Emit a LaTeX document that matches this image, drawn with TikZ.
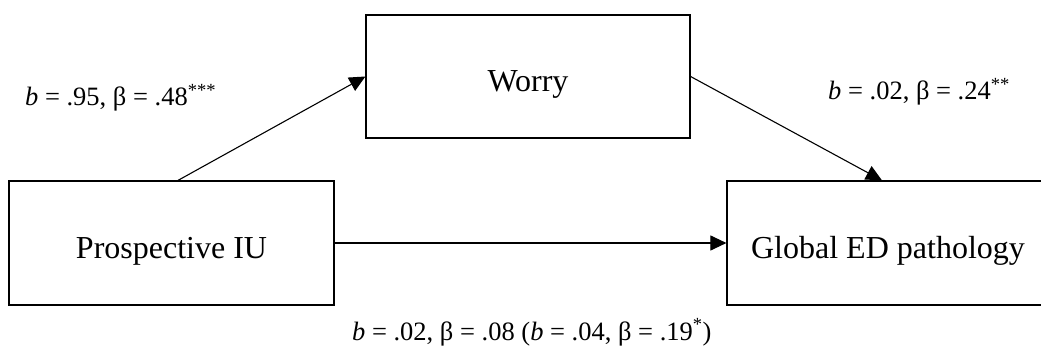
\documentclass[tikz,border=0pt]{standalone}
\usepackage{fontspec}
\setmainfont{Liberation Serif}
\usetikzlibrary{arrows.meta,calc}
\begin{document}
\begin{tikzpicture}[x=1pt,y=-1pt,
  box/.style={draw,line width=1.2pt,inner sep=0pt,text height=38pt,text depth=7pt,font=\fontsize{32}{38}\selectfont},
  lbl/.style={inner sep=0pt,anchor=base west,font=\fontsize{26.5}{32}\selectfont},
  conn/.style={line width=1.1pt,-{Triangle[length=16pt,width=15pt]}}]
\useasboundingbox (0,0) rectangle (1041,347);
\clip (0,0) rectangle (1041,347);
\node[box,minimum width=324pt,minimum height=123pt] (worry) at (528,76.5) {Worry};
\node[box,minimum width=325pt,minimum height=124pt] (prosp) at (171.5,243) {Prospective IU};
\node[box,minimum width=322pt,minimum height=124pt] (global) at (888,243) {Global ED pathology};
\draw[conn] ($(prosp.north)+(6.5,0)$) -- (worry.west);
\draw[conn] (worry.east) -- ($(global.north)+(-6,0)$);
\draw[conn] (prosp.east) -- (global.west);
\node[lbl] (l1) at (25,106) {\textit{b} = .95, β = .48\textsuperscript{***}};
\node[lbl] (l2) at (828,100) {\textit{b} = .02, β = .24\textsuperscript{**}};
\node[lbl] (l3) at (352,340) {\textit{b} = .02, β = .08 (\textit{b} = .04, β = .19\textsuperscript{*})};
\end{tikzpicture}
\end{document}
